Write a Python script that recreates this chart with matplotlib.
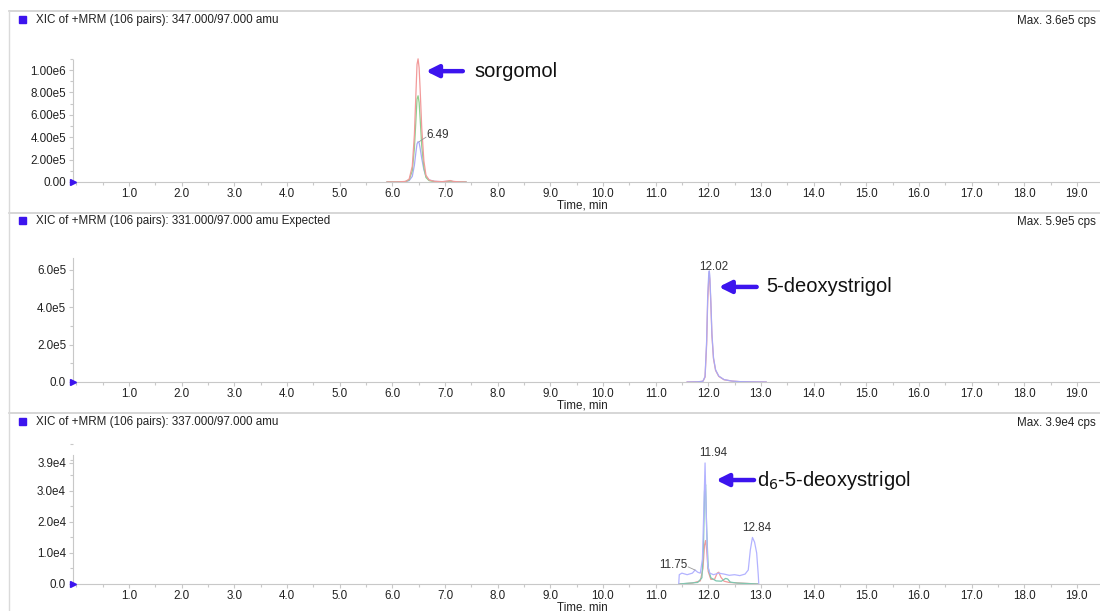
import matplotlib
matplotlib.use("Agg")
import matplotlib.pyplot as plt
from matplotlib.ticker import MultipleLocator, FixedLocator, FixedFormatter
from matplotlib.patches import Rectangle
from matplotlib.lines import Line2D

plt.rcParams["font.family"] = ["Liberation Sans", "DejaVu Sans"]

W, H = 1100, 611

# ---- panel 1: 347.000/97.000 amu (sorgomol) ----
t1 = [5.90, 6.10, 6.25, 6.32, 6.38, 6.42, 6.45, 6.47, 6.49, 6.51, 6.53, 6.56,
      6.60, 6.64, 6.70, 6.80, 6.95, 7.05, 7.10, 7.15, 7.25, 7.40]
red1 = [0, 1e3, 5e3, 2.5e4, 1.4e5, 4.2e5, 8.0e5, 1.05e6, 1.10e6, 1.02e6, 8.2e5, 4.8e5,
        1.9e5, 6e4, 1.8e4, 6e3, 3e3, 8e3, 1.3e4, 6e3, 2e3, 0]
green1 = [0, 1e3, 4e3, 1.8e4, 1.0e5, 3.0e5, 5.6e5, 7.4e5, 7.7e5, 7.1e5, 5.6e5, 3.2e5,
          1.3e5, 4e4, 1.2e4, 4e3, 2e3, 5e3, 8e3, 4e3, 1e3, 0]
blue1 = [0, 1e3, 3e3, 1.2e4, 5e4, 1.5e5, 2.7e5, 3.4e5, 3.6e5, 3.5e5, 3.0e5, 2.1e5,
         1.1e5, 5e4, 1.8e4, 6e3, 3e3, 6e3, 9e3, 4e3, 1e3, 0]

# ---- panel 2: 331.000/97.000 amu (5-deoxystrigol) ----
t2 = [11.60, 11.80, 11.90, 11.94, 11.97, 11.99, 12.01, 12.02, 12.03, 12.05, 12.07,
      12.10, 12.14, 12.20, 12.30, 12.45, 12.60, 12.80, 13.10]
blue2 = [0, 1e3, 4e3, 3e4, 2.2e5, 4.6e5, 5.8e5, 5.95e5, 5.7e5, 4.3e5, 2.6e5,
         1.3e5, 6.5e4, 3.2e4, 1.3e4, 5e3, 2e3, 1e3, 0]
red2 = [0, 1e3, 4e3, 2.6e4, 2.0e5, 4.3e5, 5.5e5, 5.7e5, 5.5e5, 4.2e5, 2.5e5,
        1.25e5, 6.2e4, 3.0e4, 1.2e4, 5e3, 2e3, 1e3, 0]

# ---- panel 3: 337.000/97.000 amu (d6-5-deoxystrigol) ----
t3b = [11.44, 11.45, 11.50, 11.60, 11.70, 11.75, 11.80, 11.85, 11.89, 11.92, 11.94,
       11.96, 11.99, 12.03, 12.10, 12.20, 12.30, 12.40, 12.50, 12.60, 12.70, 12.76,
       12.80, 12.84, 12.88, 12.92, 12.95, 12.96]
blue3 = [0, 3e3, 3.5e3, 3e3, 3.5e3, 4.5e3, 3.8e3, 3.5e3, 8e3, 2.6e4, 3.9e4,
         2.4e4, 6e3, 3.5e3, 3e3, 3.5e3, 3.2e3, 2.8e3, 3e3, 2.7e3, 3.2e3, 4.5e3,
         1.1e4, 1.5e4, 1.35e4, 1.0e4, 3e3, 0]
t3r = [11.44, 11.70, 11.85, 11.90, 11.93, 11.95, 11.97, 12.00, 12.05, 12.12, 12.17,
       12.20, 12.24, 12.30, 12.40, 12.60, 12.95]
red3 = [0, 300, 1e3, 5e3, 1.25e4, 1.4e4, 1.1e4, 4e3, 1.5e3, 1.5e3, 3.5e3,
        3.8e3, 2.2e3, 900, 500, 300, 0]
t3g = [11.44, 11.80, 11.88, 11.91, 11.93, 11.95, 11.97, 12.00, 12.05, 12.15, 12.25,
       12.33, 12.37, 12.42, 12.55, 12.95]
green3 = [0, 500, 2e3, 1.2e4, 3.0e4, 3.2e4, 1.8e4, 5e3, 2e3, 1e3, 900,
          1.8e3, 1.6e3, 600, 300, 0]

xticks = [1.0, 2.0, 3.0, 4.0, 5.0, 6.0, 7.0, 8.0, 9.0, 10.0,
          11.0, 12.0, 13.0, 14.0, 15.0, 16.0, 17.0, 18.0, 19.0]

headers = ["XIC of +MRM (106 pairs): 347.000/97.000 amu",
           "XIC of +MRM (106 pairs): 331.000/97.000 amu Expected",
           "XIC of +MRM (106 pairs): 337.000/97.000 amu"]
max_labels = ["Max. 3.6e5 cps", "Max. 5.9e5 cps", "Max. 3.9e4 cps"]

yticks = [[0, 2e5, 4e5, 6e5, 8e5, 1e6],
          [0, 2e5, 4e5, 6e5],
          [0, 1e4, 2e4, 3e4, 3.9e4]]
ylabels = [["0.00", "2.00e5", "4.00e5", "6.00e5", "8.00e5", "1.00e6"],
           ["0.0", "2.0e5", "4.0e5", "6.0e5"],
           ["0.0", "1.0e4", "2.0e4", "3.0e4", "3.9e4"]]
yminor = [1e5, 1e5, 5e3]

# layout in pixels: axis bottom/top, y-limit top, spine top value, separator, header
panels = [dict(bottom=182, top=52, ytop=1.161e6, spine=1.09e6, sep=11, head=20),
          dict(bottom=382, top=252, ytop=6.96e5, spine=6.64e5, sep=213, head=221),
          dict(bottom=584, top=440, ytop=4.64e4, spine=4.16e4, sep=413, head=422)]

PURPLE = "#3c14ee"
RED, GREEN, BLUE = "#f29a9a", "#8fd08f", "#a9a9f5"
GREY = "#c8c8c8"
FS = 8.4

fig = plt.figure(figsize=(W / 100, H / 100), dpi=100)

# frame lines
for p in panels:
    fig.add_artist(Line2D([9 / W, 1], [1 - p["sep"] / H] * 2, color="#d0d0d0", lw=1.2))
fig.add_artist(Line2D([9 / W, 9 / W], [1 - 11 / H, 0], color="#dadada", lw=1.0))

x0 = -0.063
x1 = 19.44
axes = []
for i, p in enumerate(panels):
    ax = fig.add_axes([73 / W, 1 - p["bottom"] / H, (W - 73) / W, (p["bottom"] - p["top"]) / H])
    ax.set_xlim(x0, x1)
    ax.set_ylim(0, p["ytop"])
    for s in ["top", "right"]:
        ax.spines[s].set_visible(False)
    ax.spines["left"].set_color(GREY)
    ax.spines["bottom"].set_color(GREY)
    ax.spines["left"].set_bounds(0, p["spine"])
    ax.xaxis.set_major_locator(FixedLocator(xticks))
    ax.set_xticklabels([f"{v:.1f}" for v in xticks])
    ax.xaxis.set_minor_locator(MultipleLocator(0.5))
    ax.yaxis.set_major_locator(FixedLocator(yticks[i]))
    ax.yaxis.set_major_formatter(FixedFormatter(ylabels[i]))
    ax.yaxis.set_minor_locator(MultipleLocator(yminor[i]))
    ax.tick_params(axis="both", which="both", colors=GREY, labelcolor="#222222",
                   labelsize=FS, length=3, width=0.8)
    ax.tick_params(axis="both", which="minor", length=2)
    ax.tick_params(axis="x", pad=1.5)
    ax.tick_params(axis="y", pad=2)
    ax.patch.set_alpha(0)
    # blue origin marker
    ax.plot([x0], [0], marker=">", color=PURPLE, ms=5, clip_on=False, zorder=5)
    axes.append(ax)

    # header
    fig.add_artist(Rectangle((19 / W, 1 - (p["head"] + 3) / H), 7 / W, 7 / H,
                             color=PURPLE, transform=fig.transFigure))
    fig.text(36 / W, 1 - p["head"] / H, headers[i], fontsize=FS, color="#222222",
             va="center", ha="left")
    fig.text(1017 / W, 1 - (p["head"] + 1) / H, max_labels[i], fontsize=FS,
             color="#222222", va="center", ha="left")
    fig.text(582 / W, 1 - (p["bottom"] + 24) / H, "Time, min", fontsize=FS,
             color="#222222", va="center", ha="center")

ax1, ax2, ax3 = axes
lw = 0.9
ax1.plot(t1, blue1, color=BLUE, lw=lw)
ax1.plot(t1, green1, color=GREEN, lw=lw)
ax1.plot(t1, red1, color=RED, lw=lw)

ax2.plot(t2, red2, color=RED, lw=lw)
ax2.plot(t2, blue2, color=BLUE, lw=lw)

ax3.plot(t3r, red3, color=RED, lw=lw)
ax3.plot(t3g, green3, color="#7cc7b0", lw=lw)
ax3.plot(t3b, blue3, color="#b3b3ff", lw=lw)

# peak labels
lab = dict(fontsize=FS, color="#333333")
ax1.plot([6.51, 6.64], [3.6e5, 4.0e5], color="#999999", lw=0.6)
ax1.text(6.65, 4.2e5, "6.49", ha="left", va="center", **lab)
ax2.text(12.11, 6.16e5, "12.02", ha="center", va="center", **lab)
ax3.text(12.09, 4.22e4, "11.94", ha="center", va="center", **lab)
ax3.text(12.92, 1.8e4, "12.84", ha="center", va="center", **lab)
ax3.plot([11.62, 11.75], [5.5e3, 4.5e3], color="#999999", lw=0.6)
ax3.text(11.61, 6.1e3, "11.75", ha="right", va="center", **lab)

# compound annotations: (axis, tip, tail, text pos, label)
notes = [(ax1, (6.64, 9.9e5), (7.34, 9.9e5), (7.56, 9.9e5), "sorgomol"),
         (ax2, (12.20, 5.09e5), (12.92, 5.09e5), (13.11, 5.09e5), "5-deoxystrigol"),
         (ax3, (12.15, 3.35e4), (12.87, 3.35e4), (12.92, 3.35e4), "d$_6$-5-deoxystrigol")]
for ax, tip, tail, tp, txt in notes:
    ax.annotate("", xy=tip, xytext=tail,
                arrowprops=dict(arrowstyle="-|>", color=PURPLE, lw=3.2,
                                mutation_scale=18, shrinkA=0, shrinkB=0))
    ax.text(tp[0], tp[1], txt, fontsize=14.5, color="#111111", ha="left", va="center")

fig.savefig("out.png", dpi=100)
